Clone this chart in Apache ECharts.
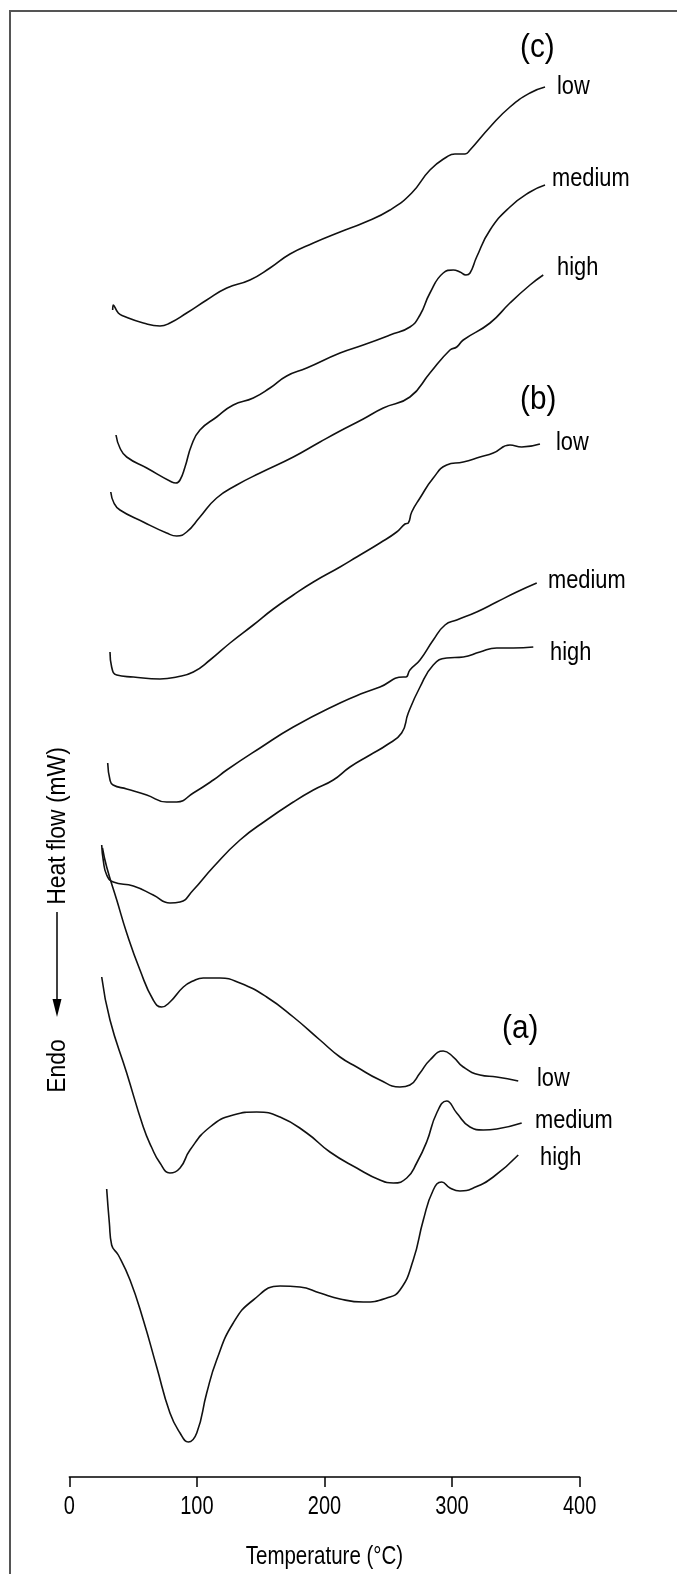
<!DOCTYPE html>
<html><head><meta charset="utf-8">
<script src="https://cdn.jsdelivr.net/npm/echarts/dist/echarts.min.js"></script>
<style>html,body{margin:0;padding:0;background:#fff}#chart{width:677px;height:1574px}</style>
</head><body><div id="chart"></div>
<script>
// x ticks (°C)
const temperatureTicks = [0, 100, 200, 300, 400];
const xTitle = 'Temperature (°C)';
const curveLabels = ['low', 'medium', 'high'];
const panelLabels = ['(c)', '(b)', '(a)'];

// Heat flow curves (offset, arbitrary units) as [temperature °C, heat flow]
const cLow = [[34.0,1167],[34.5,1172],[38.4,1164],[42.3,1161],[58.0,1154],[71.1,1151],[78.9,1154],[92.0,1164],[107.7,1177],[123.4,1189],[141.6,1197],[157.3,1209],[173.0,1223],[191.3,1234],[212.2,1245],[230.4,1254],[251.4,1267],[268.4,1284],[282.7,1307],[295.8,1320],[302.3,1323],[310.2,1323],[314.1,1327],[329.8,1350],[345.4,1370],[361.1,1384],[372.9,1390]];
const cMedium = [[36.6,1042],[39.7,1029],[45.0,1020],[60.7,1009],[80.3,995],[83.6,994],[86.8,997],[90.7,1010],[95.9,1032],[102.4,1047],[115.5,1060],[128.5,1072],[144.2,1079],[157.3,1089],[170.4,1101],[186.1,1109],[212.2,1124],[230.4,1132],[251.4,1142],[267.0,1150],[274.9,1162],[282.7,1184],[293.1,1204],[301.0,1207],[306.2,1205],[310.9,1202],[314.1,1204],[319.3,1220],[329.8,1247],[345.4,1270],[361.1,1285],[372.9,1292]];
const cHigh = [[32.5,985],[35.0,974],[39.7,967],[58.0,955],[76.3,944],[84.2,941],[92.0,945],[102.4,960],[115.5,979],[131.2,992],[149.5,1004],[175.6,1020],[196.5,1035],[212.2,1046],[230.4,1058],[246.1,1069],[267.0,1080],[282.7,1104],[298.4,1127],[303.7,1130],[308.8,1137],[329.8,1154],[345.4,1174],[361.1,1192],[371.5,1202]];
const bLow = [[31.9,825],[33.2,810],[37.2,802],[50.2,800],[71.1,798],[84.2,800],[97.2,805],[110.3,817],[126.0,834],[144.2,852],[159.9,868],[175.6,882],[191.3,895],[212.2,910],[225.3,920],[243.5,934],[256.6,945],[263.1,953],[265.7,954],[268.4,965],[274.9,979],[285.3,999],[295.8,1012],[308.8,1015],[321.9,1020],[332.3,1024],[345.4,1032],[354.6,1030],[368.9,1033]];
const bMedium = [[30.1,714],[31.9,697],[34.3,692],[45.0,688],[60.7,682],[76.3,675],[84.2,675],[97.2,684],[112.9,697],[123.4,707],[149.5,729],[175.6,750],[212.2,774],[230.4,784],[243.5,790],[261.8,800],[263.9,800],[267.0,807],[274.9,817],[285.3,837],[294.5,852],[303.7,857],[319.3,865],[335.0,875],[350.7,885],[366.4,894]];
const bHigh = [[25.4,632],[26.6,617],[29.3,602],[34.5,595],[50.2,591],[65.8,582],[78.9,574],[86.8,575],[97.2,587],[112.9,610],[133.8,637],[154.7,657],[175.6,675],[191.3,687],[206.9,697],[220.0,710],[235.7,722],[248.8,732],[260.5,744],[265.7,764],[274.9,790],[285.3,812],[295.8,819],[308.8,820],[321.9,825],[335.0,829],[348.0,829],[363.7,830]];
const aLow = [[26.0,629],[29.3,610],[37.2,577],[45.0,544],[55.4,507],[65.8,477],[72.4,470],[78.9,475],[89.4,490],[97.0,496],[105.0,499],[118.1,499],[133.8,494],[154.7,480],[175.6,460],[196.5,437],[212.2,420],[225.3,410],[243.5,397],[259.2,390],[267.0,392],[274.9,404],[282.7,417],[293.1,426],[301.0,420],[308.8,410],[321.9,402],[335.0,400],[351.9,396]];
const aMedium = [[25.4,500],[31.9,457],[45.0,404],[58.0,350],[64.4,330],[71.1,314],[78.9,304],[86.8,309],[94.6,327],[110.3,350],[128.5,362],[146.9,365],[165.2,360],[186.1,344],[204.3,325],[225.3,309],[243.5,297],[254.0,294],[264.5,299],[272.3,314],[280.1,335],[288.0,364],[295.8,376],[303.7,364],[314.1,350],[324.5,347],[335.0,348],[354.6,354]];
const aHigh = [[29.3,288],[31.4,254],[33.2,232],[38.4,222],[47.6,197],[58.0,157],[68.5,110],[78.9,64],[86.8,44],[93.3,35],[99.9,44],[107.7,84],[115.5,117],[128.5,154],[144.2,177],[165.2,191],[180.8,190],[196.5,184],[212.2,178],[230.4,175],[248.8,179],[259.2,187],[269.6,217],[277.5,257],[285.3,287],[291.9,295],[298.4,289],[306.2,286],[316.7,289],[332.3,300],[351.9,322]];

const curves = [
  ['(c) low', cLow], ['(c) medium', cMedium], ['(c) high', cHigh],
  ['(b) low', bLow], ['(b) medium', bMedium], ['(b) high', bHigh],
  ['(a) low', aLow], ['(a) medium', aMedium], ['(a) high', aHigh]
];

const FONT = "'Liberation Sans', Arial, sans-serif";
const chart = echarts.init(document.getElementById('chart'), null, {renderer: 'canvas'});

function txt(text, x, y, size, opts) {
  opts = opts || {};
  const align = opts.align || 'left';
  return {
    type: 'text', x: x, y: y, rotation: opts.rot || 0, silent: true,
    scaleX: opts.sx || 0.84, scaleY: 1,
    style: {text: text, fill: '#000', fontSize: size, fontFamily: FONT,
      textAlign: align, textVerticalAlign: 'middle', align: align, verticalAlign: 'middle'}
  };
}

chart.setOption({
  animation: false,
  backgroundColor: '#fff',
  grid: {left: 69.3, right: 97.4, top: 27, bottom: 97},
  xAxis: {
    type: 'value', min: temperatureTicks[0], max: temperatureTicks[temperatureTicks.length - 1],
    interval: temperatureTicks[1] - temperatureTicks[0],
    axisLine: {show: true, lineStyle: {color: '#000', width: 1.5}},
    axisTick: {show: true, length: 10, lineStyle: {color: '#000', width: 1.5}},
    axisLabel: {show: false},
    splitLine: {show: false}
  },
  yAxis: {type: 'value', min: 0, max: 1450, show: false, splitLine: {show: false}},
  series: curves.map(function (c) {
    return {name: c[0], type: 'line', data: c[1], showSymbol: false, symbol: 'none',
      smooth: 0.5, silent: true, lineStyle: {color: '#111', width: 1.6}};
  })
});

const labelPos = [
  [557, 87], [552, 179], [557, 268],
  [556, 443], [548, 581], [550, 653],
  [537, 1079], [535, 1121], [540, 1158]
];
const panelPos = [[520, 48], [520, 400], [502, 1029]];

const graphics = [
  {type: 'rect', silent: true, shape: {x: 10, y: 11, width: 800, height: 1700},
   style: {fill: 'none', stroke: '#555', lineWidth: 2}}
];
labelPos.forEach(function (p, i) { graphics.push(txt(curveLabels[i % 3], p[0], p[1], 26)); });
panelPos.forEach(function (p, i) { graphics.push(txt(panelLabels[i], p[0], p[1], 33, {sx: 0.9})); });
graphics.push(txt('Heat flow (mW)', 58, 826, 26, {rot: Math.PI / 2, align: 'center', sx: 0.88}));
graphics.push(txt('Endo', 58, 1066, 26, {rot: Math.PI / 2, align: 'center', sx: 0.88}));
graphics.push({type: 'line', silent: true, shape: {x1: 57, y1: 912, x2: 57, y2: 1004},
  style: {stroke: '#000', lineWidth: 1.5}});
graphics.push({type: 'polygon', silent: true, shape: {points: [[52.5, 999], [61.5, 999], [57, 1017]]},
  style: {fill: '#000'}});

// tick labels and axis title, positioned through the x axis scale
const axisY = chart.convertToPixel({yAxisIndex: 0}, 0);
temperatureTicks.forEach(function (t) {
  const px = chart.convertToPixel({xAxisIndex: 0}, t);
  graphics.push(txt(String(t), px, axisY + 30, 25, {align: 'center', sx: 0.8}));
});
graphics.push(txt(xTitle, chart.convertToPixel({xAxisIndex: 0}, 200), axisY + 80, 25, {align: 'center', sx: 0.82}));

chart.setOption({graphic: graphics});
</script></body></html>
